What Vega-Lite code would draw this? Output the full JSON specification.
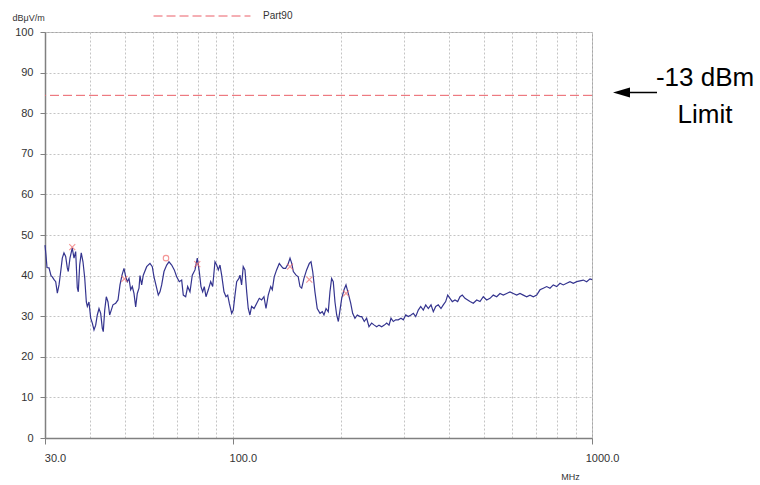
{
  "$schema": "https://vega.github.io/schema/vega-lite/v6.json",
  "width": 547,
  "height": 406,
  "autosize": {"type": "none"},
  "padding": {"left": 45, "top": 32, "right": 168, "bottom": 47},
  "background": "white",
  "config": {"font": "Liberation Sans", "view": {"stroke": "#a6a6a6", "strokeWidth": 1}},
  "datasets": {
    "trace": [
      {"mhz":30.0,"dbuv":47.5},{"mhz":30.19,"dbuv":45.0},{"mhz":30.39,"dbuv":42.0},{"mhz":30.78,"dbuv":41.9},{"mhz":31.18,"dbuv":40.0},{"mhz":31.44,"dbuv":39.7},{"mhz":31.79,"dbuv":39.0},{"mhz":32.13,"dbuv":38.5},{"mhz":32.47,"dbuv":35.7},{"mhz":32.82,"dbuv":37.7},{"mhz":33.18,"dbuv":41.0},{"mhz":33.52,"dbuv":44.3},{"mhz":33.88,"dbuv":45.6},{"mhz":34.25,"dbuv":44.7},{"mhz":34.61,"dbuv":41.9},{"mhz":34.83,"dbuv":41.0},{"mhz":35.21,"dbuv":44.3},{"mhz":35.73,"dbuv":46.8},{"mhz":36.13,"dbuv":44.3},{"mhz":36.52,"dbuv":45.9},{"mhz":36.90,"dbuv":37.0},{"mhz":37.14,"dbuv":36.0},{"mhz":37.47,"dbuv":42.6},{"mhz":37.85,"dbuv":45.6},{"mhz":38.27,"dbuv":43.4},{"mhz":38.70,"dbuv":39.4},{"mhz":39.10,"dbuv":33.5},{"mhz":39.35,"dbuv":32.4},{"mhz":39.77,"dbuv":33.5},{"mhz":40.21,"dbuv":29.5},{"mhz":40.63,"dbuv":28.3},{"mhz":41.07,"dbuv":26.6},{"mhz":41.52,"dbuv":27.8},{"mhz":41.95,"dbuv":30.3},{"mhz":42.41,"dbuv":31.9},{"mhz":42.87,"dbuv":30.7},{"mhz":43.32,"dbuv":27.0},{"mhz":43.59,"dbuv":26.2},{"mhz":43.99,"dbuv":31.5},{"mhz":44.44,"dbuv":34.8},{"mhz":44.93,"dbuv":33.5},{"mhz":45.41,"dbuv":30.3},{"mhz":45.88,"dbuv":31.5},{"mhz":46.38,"dbuv":32.8},{"mhz":47.20,"dbuv":33.2},{"mhz":47.90,"dbuv":34.0},{"mhz":48.52,"dbuv":37.7},{"mhz":49.15,"dbuv":40.1},{"mhz":49.78,"dbuv":41.8},{"mhz":50.33,"dbuv":39.7},{"mhz":50.85,"dbuv":38.5},{"mhz":51.40,"dbuv":39.3},{"mhz":51.96,"dbuv":36.5},{"mhz":52.50,"dbuv":37.3},{"mhz":53.07,"dbuv":35.6},{"mhz":53.65,"dbuv":32.3},{"mhz":54.21,"dbuv":35.6},{"mhz":54.80,"dbuv":36.9},{"mhz":55.15,"dbuv":40.0},{"mhz":55.75,"dbuv":37.7},{"mhz":56.33,"dbuv":40.1},{"mhz":57.57,"dbuv":42.2},{"mhz":58.80,"dbuv":43.0},{"mhz":59.68,"dbuv":42.2},{"mhz":60.33,"dbuv":39.7},{"mhz":61.38,"dbuv":36.9},{"mhz":62.02,"dbuv":35.2},{"mhz":62.70,"dbuv":36.0},{"mhz":63.38,"dbuv":37.7},{"mhz":64.33,"dbuv":41.0},{"mhz":65.45,"dbuv":42.6},{"mhz":66.42,"dbuv":43.4},{"mhz":67.58,"dbuv":42.6},{"mhz":68.72,"dbuv":41.4},{"mhz":69.78,"dbuv":39.7},{"mhz":70.95,"dbuv":38.5},{"mhz":72.05,"dbuv":38.9},{"mhz":72.80,"dbuv":35.2},{"mhz":73.92,"dbuv":34.8},{"mhz":74.87,"dbuv":37.3},{"mhz":75.99,"dbuv":36.0},{"mhz":77.12,"dbuv":40.1},{"mhz":78.47,"dbuv":41.4},{"mhz":79.64,"dbuv":44.3},{"mhz":80.66,"dbuv":41.0},{"mhz":81.54,"dbuv":37.3},{"mhz":82.43,"dbuv":36.0},{"mhz":83.29,"dbuv":37.3},{"mhz":84.20,"dbuv":34.8},{"mhz":85.46,"dbuv":36.5},{"mhz":86.78,"dbuv":38.5},{"mhz":87.89,"dbuv":37.3},{"mhz":89.20,"dbuv":43.4},{"mhz":90.17,"dbuv":42.6},{"mhz":91.12,"dbuv":41.4},{"mhz":92.11,"dbuv":42.6},{"mhz":93.11,"dbuv":40.1},{"mhz":94.50,"dbuv":36.0},{"mhz":95.72,"dbuv":34.8},{"mhz":96.77,"dbuv":35.2},{"mhz":97.77,"dbuv":33.2},{"mhz":99.28,"dbuv":30.7},{"mhz":100.3,"dbuv":31.5},{"mhz":101.4,"dbuv":35.2},{"mhz":102.5,"dbuv":38.5},{"mhz":104.0,"dbuv":39.3},{"mhz":104.7,"dbuv":40.1},{"mhz":105.8,"dbuv":37.7},{"mhz":106.9,"dbuv":42.2},{"mhz":108.1,"dbuv":41.4},{"mhz":109.3,"dbuv":36.0},{"mhz":110.4,"dbuv":31.9},{"mhz":111.6,"dbuv":30.3},{"mhz":112.8,"dbuv":32.4},{"mhz":114.6,"dbuv":31.9},{"mhz":116.6,"dbuv":33.2},{"mhz":118.5,"dbuv":34.4},{"mhz":120.3,"dbuv":34.0},{"mhz":122.1,"dbuv":34.8},{"mhz":123.7,"dbuv":31.9},{"mhz":125.5,"dbuv":35.2},{"mhz":127.5,"dbuv":37.3},{"mhz":128.8,"dbuv":36.5},{"mhz":130.4,"dbuv":39.7},{"mhz":132.4,"dbuv":41.4},{"mhz":134.7,"dbuv":43.0},{"mhz":136.8,"dbuv":42.2},{"mhz":138.2,"dbuv":41.8},{"mhz":140.3,"dbuv":41.8},{"mhz":142.7,"dbuv":43.0},{"mhz":144.3,"dbuv":44.3},{"mhz":145.9,"dbuv":43.0},{"mhz":147.4,"dbuv":41.0},{"mhz":150.0,"dbuv":40.1},{"mhz":152.1,"dbuv":39.7},{"mhz":153.8,"dbuv":37.3},{"mhz":155.5,"dbuv":36.9},{"mhz":157.8,"dbuv":39.3},{"mhz":160.5,"dbuv":41.4},{"mhz":163.3,"dbuv":43.0},{"mhz":165.1,"dbuv":43.4},{"mhz":166.9,"dbuv":41.0},{"mhz":169.3,"dbuv":36.0},{"mhz":171.8,"dbuv":31.9},{"mhz":174.9,"dbuv":30.7},{"mhz":177.5,"dbuv":31.1},{"mhz":179.4,"dbuv":30.3},{"mhz":181.8,"dbuv":31.9},{"mhz":184.4,"dbuv":31.1},{"mhz":186.4,"dbuv":36.0},{"mhz":188.4,"dbuv":39.3},{"mhz":190.4,"dbuv":38.5},{"mhz":192.5,"dbuv":33.5},{"mhz":194.6,"dbuv":30.3},{"mhz":196.7,"dbuv":28.7},{"mhz":198.8,"dbuv":31.5},{"mhz":201.0,"dbuv":34.4},{"mhz":204.0,"dbuv":36.5},{"mhz":206.6,"dbuv":37.7},{"mhz":209.6,"dbuv":35.6},{"mhz":212.9,"dbuv":33.2},{"mhz":215.6,"dbuv":30.7},{"mhz":218.8,"dbuv":29.5},{"mhz":222.1,"dbuv":30.3},{"mhz":226.0,"dbuv":29.9},{"mhz":228.5,"dbuv":29.9},{"mhz":232.3,"dbuv":28.7},{"mhz":235.8,"dbuv":29.5},{"mhz":239.4,"dbuv":27.4},{"mhz":243.5,"dbuv":28.3},{"mhz":247.7,"dbuv":27.8},{"mhz":251.5,"dbuv":27.4},{"mhz":255.3,"dbuv":27.8},{"mhz":259.7,"dbuv":27.4},{"mhz":264.1,"dbuv":27.8},{"mhz":268.2,"dbuv":28.3},{"mhz":272.2,"dbuv":27.8},{"mhz":275.7,"dbuv":29.5},{"mhz":279.8,"dbuv":28.7},{"mhz":284.1,"dbuv":29.1},{"mhz":288.8,"dbuv":29.1},{"mhz":293.9,"dbuv":29.5},{"mhz":298.4,"dbuv":29.1},{"mhz":303.0,"dbuv":30.3},{"mhz":308.0,"dbuv":29.9},{"mhz":313.4,"dbuv":30.3},{"mhz":318.1,"dbuv":30.7},{"mhz":323.0,"dbuv":29.9},{"mhz":328.4,"dbuv":31.5},{"mhz":333.5,"dbuv":32.4},{"mhz":339.1,"dbuv":31.5},{"mhz":344.4,"dbuv":32.8},{"mhz":350.2,"dbuv":31.9},{"mhz":356.3,"dbuv":32.8},{"mhz":361.6,"dbuv":31.1},{"mhz":367.2,"dbuv":32.4},{"mhz":373.3,"dbuv":32.8},{"mhz":379.8,"dbuv":31.9},{"mhz":385.5,"dbuv":32.8},{"mhz":391.4,"dbuv":33.6},{"mhz":396.5,"dbuv":35.2},{"mhz":402.4,"dbuv":34.4},{"mhz":408.4,"dbuv":33.6},{"mhz":415.5,"dbuv":34.0},{"mhz":422.7,"dbuv":33.6},{"mhz":429.0,"dbuv":34.8},{"mhz":435.4,"dbuv":35.2},{"mhz":443.0,"dbuv":34.4},{"mhz":450.7,"dbuv":34.0},{"mhz":457.4,"dbuv":33.6},{"mhz":467.2,"dbuv":33.2},{"mhz":477.5,"dbuv":34.0},{"mhz":487.7,"dbuv":33.6},{"mhz":498.1,"dbuv":34.8},{"mhz":509.1,"dbuv":34.0},{"mhz":520.0,"dbuv":34.4},{"mhz":531.1,"dbuv":35.2},{"mhz":542.8,"dbuv":34.8},{"mhz":554.4,"dbuv":35.6},{"mhz":566.3,"dbuv":35.2},{"mhz":578.7,"dbuv":35.6},{"mhz":591.1,"dbuv":36.0},{"mhz":603.8,"dbuv":35.6},{"mhz":617.1,"dbuv":35.2},{"mhz":630.3,"dbuv":35.6},{"mhz":643.8,"dbuv":35.2},{"mhz":657.9,"dbuv":34.8},{"mhz":672.0,"dbuv":35.2},{"mhz":686.4,"dbuv":34.8},{"mhz":701.5,"dbuv":35.2},{"mhz":716.5,"dbuv":36.5},{"mhz":731.8,"dbuv":36.9},{"mhz":747.9,"dbuv":37.3},{"mhz":763.9,"dbuv":36.9},{"mhz":780.2,"dbuv":37.7},{"mhz":797.4,"dbuv":37.3},{"mhz":814.5,"dbuv":38.1},{"mhz":831.9,"dbuv":37.7},{"mhz":850.2,"dbuv":38.1},{"mhz":868.4,"dbuv":38.5},{"mhz":887.0,"dbuv":38.1},{"mhz":906.5,"dbuv":38.5},{"mhz":925.9,"dbuv":38.7},{"mhz":945.7,"dbuv":38.9},{"mhz":966.5,"dbuv":38.5},{"mhz":987.2,"dbuv":39.2},{"mhz":1000,"dbuv":39.0}
    ],
    "peaks": [
      {"mhz":35.73,"dbuv":47.0},{"mhz":49.9,"dbuv":39.2},{"mhz":79.64,"dbuv":42.8},{"mhz":144.3,"dbuv":42.2},{"mhz":163.3,"dbuv":39.0},{"mhz":206.6,"dbuv":35.6}
    ],
    "peaksCircle": [
      {"mhz":65.16,"dbuv":44.3}
    ],
    "limit": [
      {"series":"Part90","dbuv":84.4}
    ],
    "note": [
      {"line1":"-13 dBm","line2":"Limit"}
    ]
  },
  "layer": [
    {
      "data": {"name": "trace"},
      "mark": {"type": "line", "color": "#34348f", "strokeWidth": 1.2},
      "encoding": {
        "x": {
          "field": "mhz", "type": "quantitative",
          "scale": {"type": "log", "domain": [30, 1000], "nice": false},
          "axis": {
            "values": [30,40,50,60,70,80,90,100,200,300,400,500,600,700,800,900,1000],
            "labelExpr": "datum.value==30||datum.value==100||datum.value==1000 ? format(datum.value,'.1f') : ''",
            "grid": true, "gridDash": [2,2], "gridColor": "#c4c4c4", "gridWidth": 1,
            "tickSize": 6, "tickColor": "#808080",
            "tickOpacity": {"condition": {"test": "datum.value==30||datum.value==100||datum.value==1000", "value": 1}, "value": 0},
            "domainColor": "#808080", "domainWidth": 1.5,
            "labelFontSize": 11, "labelColor": "#333333", "labelOffset": 10, "labelPadding": 8, "labelFlush": false, "labelOverlap": false,
            "title": "MHz", "titleFontSize": 9, "titleFontWeight": "normal", "titleColor": "#333333",
            "titleX": 525, "titleY": 41, "titleAlign": "center", "titleBaseline": "alphabetic"
          }
        },
        "y": {
          "field": "dbuv", "type": "quantitative",
          "scale": {"domain": [0, 100], "nice": false},
          "axis": {
            "values": [0,10,20,30,40,50,60,70,80,90,100],
            "grid": true, "gridDash": [2,2], "gridColor": "#c4c4c4", "gridWidth": 1,
            "tickSize": 5, "tickColor": "#808080",
            "domainColor": "#808080", "domainWidth": 1.5,
            "labelFontSize": 11, "labelColor": "#333333", "labelPadding": 7, "labelFlush": false, "labelOverlap": false,
            "title": "dBμV/m", "titleAngle": 0, "titleFontSize": 9, "titleFontWeight": "normal", "titleColor": "#333333",
            "titleX": -33, "titleY": -15, "titleAlign": "left", "titleBaseline": "middle"
          }
        }
      }
    },
    {
      "data": {"name": "limit"},
      "mark": {"type": "rule", "strokeDash": [9, 4], "strokeWidth": 1},
      "encoding": {
        "y": {"field": "dbuv", "type": "quantitative"},
        "color": {
          "field": "series", "type": "nominal",
          "scale": {"range": ["#ea5f68"]},
          "legend": {
            "orient": "none", "legendX": 108, "legendY": -65, "title": null, "padding": 0,
            "symbolType": "stroke", "symbolSize": 9400, "symbolStrokeWidth": 1, "symbolDash": [9, 4],
            "labelFontSize": 10, "labelColor": "#333333", "labelOffset": 12
          }
        }
      }
    },
    {
      "data": {"name": "peaks"},
      "mark": {"type": "point", "shape": "M-1,-1L1,1M-1,1L1,-1", "filled": false, "stroke": "#f06a6a", "strokeWidth": 1.1, "size": 36},
      "encoding": {
        "x": {"field": "mhz", "type": "quantitative"},
        "y": {"field": "dbuv", "type": "quantitative"}
      }
    },
    {
      "data": {"name": "peaksCircle"},
      "mark": {"type": "point", "shape": "circle", "filled": false, "stroke": "#f06a6a", "strokeWidth": 1.1, "size": 30},
      "encoding": {
        "x": {"field": "mhz", "type": "quantitative"},
        "y": {"field": "dbuv", "type": "quantitative"}
      }
    },
    {
      "data": {"name": "note"},
      "mark": {"type": "rule", "color": "black", "strokeWidth": 1.5, "clip": false},
      "encoding": {
        "x": {"datum": 1208, "type": "quantitative"},
        "x2": {"datum": 1517},
        "y": {"datum": 85.1, "type": "quantitative"}
      }
    },
    {
      "data": {"name": "note"},
      "mark": {"type": "point", "shape": "M-1,0L1,-0.6L1,0.6Z", "filled": true, "color": "black", "opacity": 1, "size": 289, "clip": false},
      "encoding": {
        "x": {"datum": 1208, "type": "quantitative"},
        "y": {"datum": 85.1, "type": "quantitative"}
      }
    },
    {
      "data": {"name": "note"},
      "mark": {"type": "text", "font": "Liberation Sans", "fontSize": 26, "align": "center", "baseline": "alphabetic", "color": "black", "clip": false},
      "encoding": {
        "text": {"field": "line1"},
        "x": {"datum": 2064, "type": "quantitative"},
        "y": {"datum": 86.6, "type": "quantitative"}
      }
    },
    {
      "data": {"name": "note"},
      "mark": {"type": "text", "font": "Liberation Sans", "fontSize": 26, "align": "center", "baseline": "alphabetic", "color": "black", "clip": false},
      "encoding": {
        "text": {"field": "line2"},
        "x": {"datum": 2064, "type": "quantitative"},
        "y": {"datum": 77.5, "type": "quantitative"}
      }
    }
  ]
}
